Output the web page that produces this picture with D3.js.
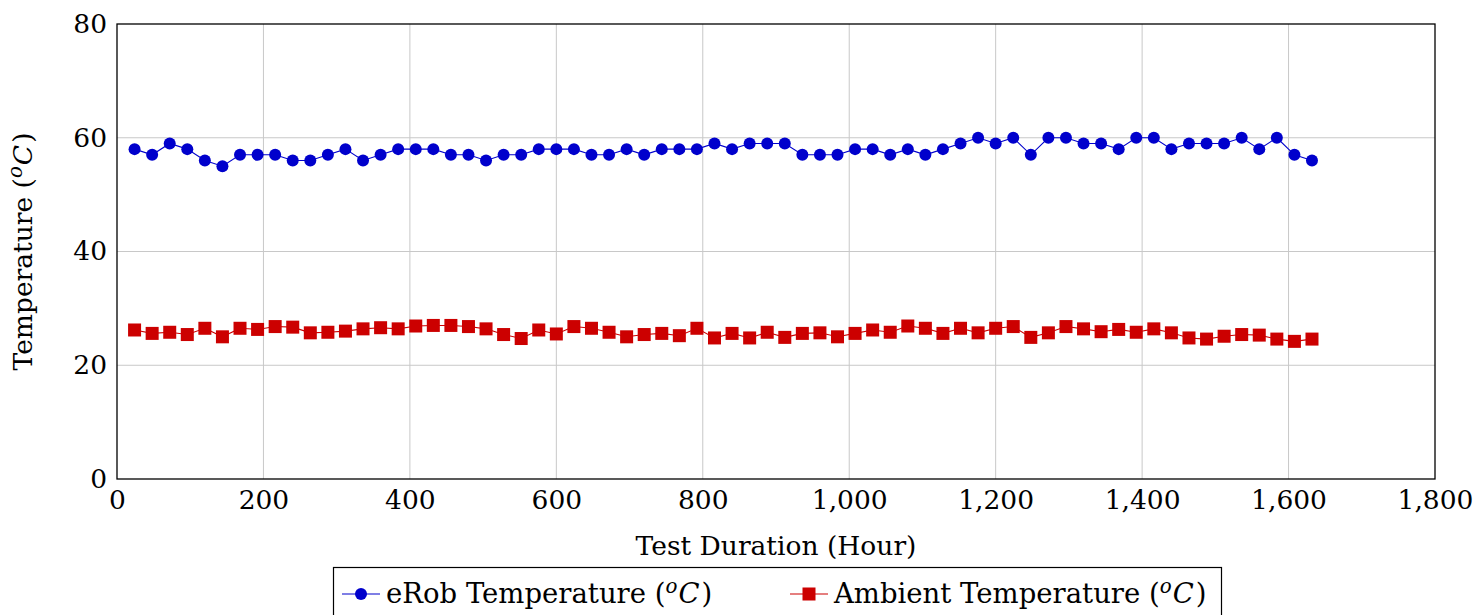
<!DOCTYPE html>
<html><head><meta charset="utf-8">
<script src="https://cdn.jsdelivr.net/npm/d3@7"></script>
<style>
html,body{margin:0;padding:0;background:#fff;}
svg{display:block;font-family:"DejaVu Serif",serif;}
</style></head><body>
<svg id="chart" width="1484" height="615"></svg>
<script>
const hours = d3.range(1, 69).map(i => i * 24);
const erobTemp = [58,57,59,58,56,55,57,57,57,56,56,57,58,56,57,58,58,58,57,57,56,57,
  57,58,58,58,57,57,58,57,58,58,58,59,58,59,59,59,57,57,57,58,58,57,58,
  57,58,59,60,59,60,57,60,60,59,59,58,60,60,58,59,59,59,60,58,60,57,56];
const ambientTemp = [26.2,25.6,25.8,25.4,26.5,25.0,26.5,26.3,26.8,26.7,25.7,25.8,26.0,26.4,26.6,26.4,26.9,27.0,27.0,26.8,26.4,25.4,
  24.7,26.2,25.5,26.8,26.5,25.8,25.0,25.4,25.6,25.2,26.5,24.8,25.6,24.8,25.8,24.9,25.6,25.7,25.0,25.6,26.2,25.8,26.9,
  26.5,25.6,26.5,25.7,26.5,26.8,24.9,25.7,26.8,26.4,25.9,26.3,25.8,26.4,25.7,24.8,24.6,25.1,25.4,25.3,24.6,24.2,24.6];
const xTicks = [0,200,400,600,800,1000,1200,1400,1600,1800];
const yTicks = [0,20,40,60,80];
const seriesNames = ["eRob Temperature", "Ambient Temperature"];

const svg = d3.select("#chart");
const L = 117, R = 1435, T = 24, B = 479;
const x = d3.scaleLinear().domain([0, 1800]).range([L, R]);
const y = d3.scaleLinear().domain([0, 80]).range([B, T]);
const FS = 26.5;

// grid
svg.append("g").selectAll("line").data(xTicks.slice(1, -1)).join("line")
  .attr("x1", d => x(d)).attr("x2", d => x(d)).attr("y1", T).attr("y2", B)
  .attr("stroke", "#c8c8c8").attr("stroke-width", 1);
svg.append("g").selectAll("line").data(yTicks.slice(1, -1)).join("line")
  .attr("y1", d => y(d)).attr("y2", d => y(d)).attr("x1", L).attr("x2", R)
  .attr("stroke", "#c8c8c8").attr("stroke-width", 1);

// axes
const xAxis = svg.append("g").attr("transform", `translate(0,${B})`)
  .call(d3.axisBottom(x).tickValues(xTicks).tickFormat(d3.format(",")).tickSize(0).tickPadding(10));
const yAxis = svg.append("g").attr("transform", `translate(${L},0)`)
  .call(d3.axisLeft(y).tickValues(yTicks).tickSize(0).tickPadding(10));
[xAxis, yAxis].forEach(a => {
  a.select(".domain").remove();
  a.selectAll("text").attr("font-size", FS).attr("font-family", "DejaVu Serif").attr("fill", "#000");
});
xAxis.selectAll("text").attr("dy", "0.75em");

svg.append("rect").attr("x", L).attr("y", T).attr("width", R - L).attr("height", B - T)
  .attr("fill", "none").attr("stroke", "#000").attr("stroke-width", 1.3);

// series
const blue = "#0000cc", red = "#cc0000";
const line = d3.line().x(d => x(d[0])).y(d => y(d[1]));
const bData = hours.map((h, i) => [h, erobTemp[i]]);
const rData = hours.map((h, i) => [h, ambientTemp[i]]);
svg.append("path").datum(bData).attr("d", line).attr("fill", "none").attr("stroke", blue).attr("stroke-width", 1.1);
svg.append("path").datum(rData).attr("d", line).attr("fill", "none").attr("stroke", red).attr("stroke-width", 1.1);
svg.append("g").selectAll("circle").data(bData).join("circle")
  .attr("cx", d => x(d[0])).attr("cy", d => y(d[1])).attr("r", 6).attr("fill", blue);
svg.append("g").selectAll("rect").data(rData).join("rect")
  .attr("x", d => x(d[0]) - 6.5).attr("y", d => y(d[1]) - 6.5).attr("width", 13).attr("height", 13).attr("fill", red);

// axis titles
svg.append("text").attr("x", (L + R) / 2).attr("y", 555).attr("text-anchor", "middle")
  .attr("font-size", FS).text("Test Duration (Hour)");
const yt = svg.append("text").attr("transform", `translate(32,${(T + B) / 2}) rotate(-90)`)
  .attr("text-anchor", "middle").attr("font-size", FS);
function degLabel(t, name) {
  t.append("tspan").text(name + " (");
  t.append("tspan").attr("font-style", "italic").attr("font-size", FS * 0.75).attr("dy", -10).text("o");
  t.append("tspan").attr("font-style", "italic").attr("dy", 10).attr("dx", 1).text("C");
  t.append("tspan").attr("dx", 2).text(")");
}
degLabel(yt, "Temperature");

// legend
svg.append("rect").attr("x", 333.5).attr("y", 567.5).attr("width", 888).attr("height", 60)
  .attr("fill", "#fff").attr("stroke", "#000").attr("stroke-width", 1.2);
const leg = [{x: 342, name: seriesNames[0], c: blue, m: "circle"}, {x: 790, name: seriesNames[1], c: red, m: "rect"}];
leg.forEach(e => {
  const g = svg.append("g");
  g.append("line").attr("x1", e.x).attr("x2", e.x + 38).attr("y1", 594).attr("y2", 594).attr("stroke", e.c).attr("stroke-width", 1.1);
  if (e.m === "circle") g.append("circle").attr("cx", e.x + 19).attr("cy", 594).attr("r", 6).attr("fill", e.c);
  else g.append("rect").attr("x", e.x + 12.5).attr("y", 587.5).attr("width", 13).attr("height", 13).attr("fill", e.c);
  const t = g.append("text").attr("x", e.x + 44).attr("y", 603).attr("font-size", 27.5);
  degLabel(t, e.name);
});
</script>
</body></html>
